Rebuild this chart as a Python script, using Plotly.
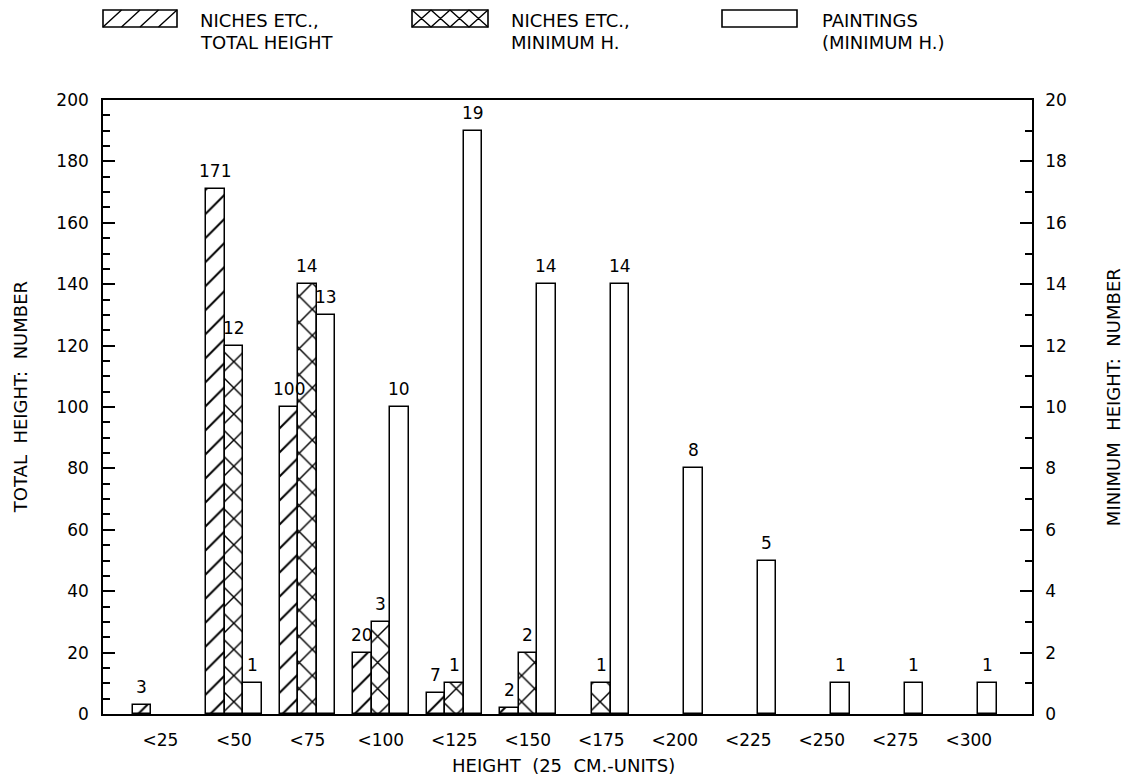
import plotly.graph_objects as go

categories = ["<25", "<50", "<75", "<100", "<125", "<150", "<175",
              "<200", "<225", "<250", "<275", "<300"]
niches_total = [3, 171, 100, 20, 7, 2, None, None, None, None, None, None]
niches_min = [None, 12, 14, 3, 1, 2, 1, None, None, None, None, None]
paintings_min = [None, 1, 13, 10, 19, 14, 14, 8, 5, 1, 1, 1]

left_ticks = list(range(0, 201, 20))
right_ticks = list(range(0, 21, 2))

FONT = "DejaVu Sans"
W, H = 1125, 776
PL, PR, PT, PB = 103.0, 1032.0, 100.0, 713.7  # plot area in page pixels


def fx(px):
    return (px - PL) / (PR - PL)


def fy(py):
    return (PB - py) / (PB - PT)


idx = list(range(len(categories)))
bw = 0.252

fig = go.Figure()

fig.add_trace(go.Bar(
    x=[i - bw for i in idx], y=niches_total, width=bw, yaxis="y",
    marker=dict(color="white", opacity=1,
                line=dict(color="black", width=1.5),
                pattern=dict(shape="/", fgcolor="black", bgcolor="white",
                             fgopacity=1, size=17, solidity=0.12)),
    showlegend=False, hoverinfo="skip"))
fig.add_trace(go.Bar(
    x=idx, y=niches_min, width=bw, yaxis="y2",
    marker=dict(color="white", opacity=1,
                line=dict(color="black", width=1.5),
                pattern=dict(shape="x", fgcolor="black", bgcolor="white",
                             fgopacity=1, size=18.5, solidity=0.15)),
    showlegend=False, hoverinfo="skip"))
fig.add_trace(go.Bar(
    x=[i + bw for i in idx], y=paintings_min, width=bw, yaxis="y2",
    marker=dict(color="white", opacity=1,
                line=dict(color="black", width=1.5)),
    showlegend=False, hoverinfo="skip"))

# value labels above bars
for xs, ys, ax in [([i - bw for i in idx], niches_total, "y"),
                   (idx, niches_min, "y2"),
                   ([i + bw for i in idx], paintings_min, "y2")]:
    for xv, yv in zip(xs, ys):
        if yv is None:
            continue
        fig.add_annotation(x=xv, y=yv, xref="x", yref=ax, text=str(yv),
                           showarrow=False, xanchor="center",
                           yanchor="bottom", yshift=6,
                           font=dict(family=FONT, size=17, color="black"))

fig.update_layout(
    width=W, height=H,
    margin=dict(l=PL, r=W - PR, t=PT, b=H - PB, pad=0),
    paper_bgcolor="white", plot_bgcolor="white",
    barmode="overlay", bargap=0,
    font=dict(family=FONT, size=17, color="black"),
    xaxis=dict(range=[-0.78, 11.86], tickvals=idx, ticktext=categories,
               showline=True, mirror=True, linecolor="black", linewidth=1.6,
               ticks="", showgrid=False, zeroline=False,
               ticklabelstandoff=10, tickfont=dict(size=17)),
    yaxis=dict(range=[0, 200], tickvals=left_ticks, showline=True,
               linecolor="black", linewidth=1.6, ticks="inside", ticklen=12,
               tickwidth=1.5, tickcolor="black",
               minor=dict(dtick=5, ticks="inside", ticklen=7, tickwidth=1.5,
                          tickcolor="black", showgrid=False),
               showgrid=False, zeroline=False, ticklabelstandoff=9,
               tickfont=dict(size=17)),
    yaxis2=dict(range=[0, 20], tickvals=right_ticks, overlaying="y",
                side="right", showline=True, linecolor="black",
                linewidth=1.6, ticks="inside", ticklen=12, tickwidth=1.5,
                tickcolor="black",
                minor=dict(dtick=1, ticks="inside", ticklen=7, tickwidth=1.5,
                           tickcolor="black", showgrid=False),
                showgrid=False, zeroline=False, ticklabelstandoff=8,
                tickfont=dict(size=17)),
)

ann = [
    dict(text="TOTAL  HEIGHT:  NUMBER", x=fx(20), y=fy(397), textangle=-90),
    dict(text="MINIMUM  HEIGHT:  NUMBER", x=fx(1113), y=fy(397), textangle=-90),
    dict(text="HEIGHT  (25  CM.-UNITS)", x=fx(563), y=fy(765)),
]
for a in ann:
    fig.add_annotation(xref="paper", yref="paper", showarrow=False,
                       xanchor="center", yanchor="middle",
                       font=dict(family=FONT, size=18, color="black"), **a)

# custom legend
legend_items = [
    (103, 177, "hatch", 198, ["NICHES ETC.,", "TOTAL HEIGHT"]),
    (412, 488, "cross", 509, ["NICHES ETC.,", "MINIMUM H."]),
    (722, 797, "plain", 820, ["PAINTINGS", "(MINIMUM H.)"]),
]
by0, by1 = 10, 27
shapes = []
for x0, x1, kind, tx, lines in legend_items:
    shapes.append(dict(type="rect", xref="paper", yref="paper",
                       x0=fx(x0), x1=fx(x1), y0=fy(by1), y1=fy(by0),
                       line=dict(color="black", width=1.6),
                       fillcolor="white"))
    path = ""
    step = (x1 - x0) / 4.0
    if kind in ("hatch", "cross"):
        for k in range(4):
            a = x0 + k * step
            path += "M%.5f,%.5f L%.5f,%.5f " % (fx(a), fy(by1),
                                                fx(a + step), fy(by0))
            if kind == "cross":
                path += "M%.5f,%.5f L%.5f,%.5f " % (fx(a), fy(by0),
                                                    fx(a + step), fy(by1))
    if path:
        shapes.append(dict(type="path", xref="paper", yref="paper",
                           path=path.strip(),
                           line=dict(color="black", width=1.4)))
    for line_text, ly in zip(lines, (21, 43)):
        fig.add_annotation(xref="paper", yref="paper", showarrow=False,
                           x=fx(tx), y=fy(ly), xanchor="left",
                           yanchor="middle", align="left", text=line_text,
                           font=dict(family=FONT, size=18, color="black"))
fig.update_layout(shapes=shapes)

fig.write_html("out.html", config={"displayModeBar": False},
               post_script="document.body.style.margin='0px';"
                           "document.body.style.overflow='hidden';")
